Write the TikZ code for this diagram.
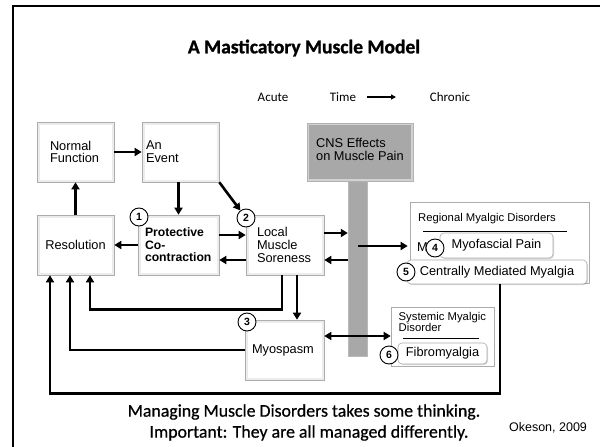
\documentclass[tikz,border=0pt]{standalone}
\usepackage{fontspec}
\setmainfont{Liberation Sans}
\newfontfamily\calfont{Carlito}[BoldFeatures={FakeBold=1.2}]
\newfontfamily\calheavy{Carlito}[FakeBold=0.6]
\usetikzlibrary{arrows.meta,shadows,calc}
\definecolor{cnsgray}{HTML}{A8A8A8}
\begin{document}
\begin{tikzpicture}[x=1pt,y=-1pt,
  bx/.style={draw=gray!65, line width=0.6pt, fill=white, inner sep=0pt, text=black,
    font=\fontsize{12.8}{12.8}\selectfont, align=left,
    path picture={\draw[gray!15,line width=5pt] (path picture bounding box.south west) rectangle (path picture bounding box.north east);},
    drop shadow={opacity=0.3,shadow xshift=1.2pt,shadow yshift=-1.2pt}},
  rbx/.style={draw=gray!65, line width=0.6pt, fill=white, rounded corners=4pt, inner sep=0pt,
    font=\fontsize{12.8}{12.8}\selectfont,
    drop shadow={opacity=0.3,shadow xshift=1pt,shadow yshift=-1pt}},
  num/.style={circle, draw=black, line width=0.9pt, fill=white, minimum size=18pt, inner sep=0pt,
    font=\bfseries\fontsize{10.5}{10.5}\selectfont},
  arr/.style={line width=2.6pt, -{Triangle[length=7pt,width=8pt]}},
  arrboth/.style={line width=2.6pt, {Triangle[length=7pt,width=8pt]}-{Triangle[length=7pt,width=8pt]}}
]
\useasboundingbox (0,0) rectangle (600,447);
\fill[white] (0,0) rectangle (600,447);
% frame
\draw[line width=2.5pt] (13,470) -- (13,6) -- (620,6);

% title and time axis
\node[font=\calfont\bfseries\fontsize{19.5}{19.5}\selectfont] (title) at (304,48) {A Masticatory Muscle Model};
\node[font=\calfont\fontsize{13}{13}\selectfont] (acute) at (273,97) {Acute};
\node[font=\calfont\fontsize{13}{13}\selectfont] (time) at (343,97) {Time};
\node[font=\calfont\fontsize{13}{13}\selectfont] (chronic) at (450,97) {Chronic};
\coordinate (t1) at (367,97);
\coordinate (t2) at (396,97);
\draw[line width=1.4pt, -{Triangle[length=5pt,width=5pt]}] (t1) -- (t2);

% CNS stem and box
\node[draw=gray!55, fill=cnsgray, minimum width=19pt, minimum height=176pt, inner sep=0pt] (stem) at (357.5,268) {};
\node[draw=gray!60, line width=0.6pt, fill=cnsgray, inner sep=0pt, minimum width=106pt, minimum height=58pt,
  path picture={\draw[gray!35,line width=4pt] (path picture bounding box.south west) rectangle (path picture bounding box.north east);},
  drop shadow={opacity=0.3,shadow xshift=1.2pt,shadow yshift=-1.2pt}] (cns) at (360,152) {};
\node[anchor=north west, inner sep=0pt, align=left, text=black, font=\fontsize{12.8}{12.8}\selectfont] (cnst) at (316,138) {CNS Effects\\on Muscle Pain};

% main boxes
\node[bx, minimum width=77pt, minimum height=60pt, text width=51pt] (normal) at (75.5,152) {Normal\\Function};
\node[bx, minimum width=77pt, minimum height=60pt, text width=69pt] (event) at (180.5,152) {An\\Event};
\node[bx, minimum width=77pt, minimum height=60pt, text width=77pt, align=center] (res) at (75.5,245) {Resolution};
\node[bx, minimum width=81pt, minimum height=60pt, text width=67pt, font=\bfseries\fontsize{12.2}{12.6}\selectfont] (prot) at (178.5,245) {Protective\\Co-\\contraction};
\node[bx, minimum width=78pt, minimum height=60pt, text width=56pt] (loc) at (285,245) {Local\\Muscle\\Soreness};
\node[bx, minimum width=79pt, minimum height=60pt, text width=65pt] (spasm) at (284.5,350) {Myospasm};

% regional myalgic disorders
\node[bx, path picture={}, minimum width=179pt, minimum height=81pt] (reg) at (499.5,242.5) {};
\node[anchor=west, inner sep=0pt, font=\fontsize{11.3}{11.3}\selectfont] (regt) at (418,219) {Regional Myalgic Disorders};
\draw[line width=1pt] (423,231) -- (567,231);
\node[anchor=west, inner sep=0pt, font=\fontsize{12.8}{12.8}\selectfont] (mm) at (417,247) {M};
\node[rbx, minimum width=113pt, minimum height=25pt] (myof) at (496.5,245.5) {Myofascial Pain};
\node[rbx, minimum width=180pt, minimum height=24pt] (cent) at (497,272) {Centrally Mediated Myalgia};

% systemic
\node[bx, path picture={}, minimum width=103pt, minimum height=59pt] (sys) at (442.5,336.5) {};
\node[anchor=north west, inner sep=0pt, align=left, font=\fontsize{11.3}{10}\selectfont] (syst) at (398.5,312) {Systemic Myalgic\\Disorder};
\draw[line width=1pt] (403,338) -- (479,338);
\node[rbx, minimum width=89pt, minimum height=21pt, font=\fontsize{12.8}{12.8}\selectfont] (fib) at (442.5,353.5) {Fibromyalgia};

% numbered circles
\node[num] (n1) at (139,217) {1};
\node[num] (n2) at (246,218) {2};
\node[num] (n3) at (247,322) {3};
\node[num] (n4) at (435,248) {4};
\node[num] (n5) at (406,272) {5};
\node[num] (n6) at (389,355) {6};

% arrows
\draw[arr] (normal.east) -- (event.west);
\draw[arr] (event.south -| prot.north) -- (prot.north);
\draw[arr] (res.north) -- (normal.south);
\draw[arr] (prot.west) -- (res.east);
\draw[arr] ($(prot.east)+(0,-10)$) -- ($(loc.west)+(0,-10)$);
\draw[arr] ($(loc.west)+(0,15)$) -- ($(prot.east)+(0,15)$);
\coordinate (p8) at ($(loc.east)+(0,-12)$);
\draw[arr] (p8) -- (p8 -| stem.west);
\coordinate (p9) at ($(stem.west)+(0,-8)$);
\draw[arr] (p9) -- (p9 -| loc.east);
\coordinate (p10) at (358,246);
\draw[arr] (p10) -- ($(p10 -| reg.west)+(-2,0)$);
\coordinate (l1) at ($(loc.south)+(-3,0)$);
\coordinate (l2) at ($(loc.south)+(12,0)$);
\draw[arr] (l1) -- ++(0,34) -| ($(res.south)+(14.5,0)$);
\draw[arr] (l2) -- (l2 |- spasm.north);
\draw[arr] (spasm.west) -| ($(res.south)+(-5.5,0)$);
\coordinate (c1) at ($(cent.south)+(3,0)$);
\draw[arr] (c1) -- ++(0,109) -| ($(res.south)+(-25.5,0)$);
\coordinate (s1) at ($(spasm.east)+(0,-14)$);
\draw[arrboth] (s1) -- (s1 -| sys.west);
\draw[arr] (event.south east) -- (n2);

% bottom text
\node[font=\calheavy\fontsize{17.8}{17.8}\selectfont] (m1) at (304,412) {Managing Muscle Disorders takes some thinking.};
\node[font=\calheavy\fontsize{17.8}{17.8}\selectfont] (m2) at (309,433) {Important: They are all managed differently.};
\node[font=\fontsize{12.5}{12.5}\selectfont] (okeson) at (548,428) {Okeson, 2009};
\end{tikzpicture}
\end{document}
